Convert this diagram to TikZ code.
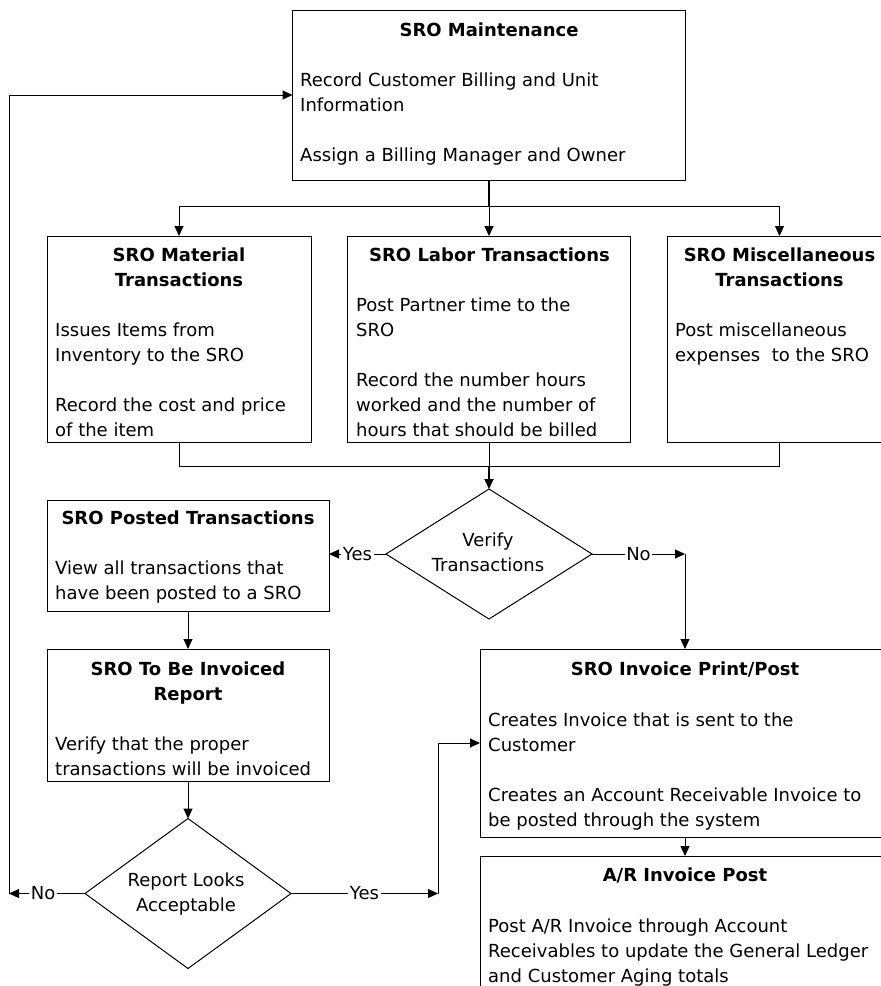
\documentclass[tikz,border=0pt]{standalone}
\usepackage{fontspec}
\setmainfont{DejaVu Sans}
\usetikzlibrary{shapes.geometric,arrows.meta}
\begin{document}
\begin{tikzpicture}[x=1pt,y=-1pt,
  box/.style={draw, line width=1pt, rectangle, inner sep=0pt, outer sep=0pt},
  dia/.style={draw, line width=1pt, diamond, inner sep=0pt, outer sep=0pt},
  ttl/.style={anchor=base, align=center, inner sep=0pt, font=\fontsize{18}{25}\selectfont\bfseries},
  bdy/.style={anchor=base west, align=left, inner sep=0pt, font=\fontsize{18}{25}\selectfont},
  dtxt/.style={anchor=base, align=center, inner sep=0pt, font=\fontsize{18}{25}\selectfont},
  con/.style={line width=1pt},
  arr/.style={line width=1pt, -{Triangle[length=10pt,width=9pt]}},
  lbl/.style={fill=white, inner sep=1.5pt, font=\fontsize{18}{22}\selectfont}
]
\useasboundingbox (0,0) rectangle (881,986);
\fill[white] (0,0) rectangle (881,986);
\clip (0,0) rectangle (881,986);

% boxes
\node[box, minimum width=393pt, minimum height=170pt] (maint) at (489,95) {};
\node[box, minimum width=264pt, minimum height=206pt] (mat) at (179,339) {};
\node[box, minimum width=283pt, minimum height=206pt] (lab) at (489,339) {};
\node[box, minimum width=225pt, minimum height=206pt] (misc) at (779.5,339) {};
\node[box, minimum width=282pt, minimum height=111pt] (posted) at (188,555.5) {};
\node[box, minimum width=282pt, minimum height=132pt] (tbi) at (188,715) {};
\node[box, minimum width=410pt, minimum height=188pt] (inv) at (685,743) {};
\node[box, minimum width=410pt, minimum height=160pt] (ar) at (685,936) {};
\node[dia, minimum width=206pt, minimum height=130pt] (verify) at (489,554) {};
\node[dia, minimum width=206pt, minimum height=150pt] (report) at (188,893.5) {};

% texts (base anchor of a multi-line node = baseline of its last line)
\node[ttl] (maintT) at (489,36) {SRO Maintenance};
\node[bdy] (maintB) at (300,161) {Record Customer Billing and Unit\\Information\\[25pt]Assign a Billing Manager and Owner};
\node[ttl] (matT) at (179,286) {SRO Material\\Transactions};
\node[bdy] (matB) at (55,436) {Issues Items from\\Inventory to the SRO\\[25pt]Record the cost and price\\of the item};
\node[ttl] (labT) at (489.5,261) {SRO Labor Transactions};
\node[bdy] (labB) at (356,436) {Post Partner time to the\\SRO\\[25pt]Record the number hours\\worked and the number of\\hours that should be billed};
\node[ttl] (miscT) at (779.5,286) {SRO Miscellaneous\\Transactions};
\node[bdy] (miscB) at (675,361) {Post miscellaneous\\expenses\ \ to the SRO};
\node[ttl] (postedT) at (188,524) {SRO Posted Transactions};
\node[bdy] (postedB) at (55,599) {View all transactions that\\have been posted to a SRO};
\node[ttl] (tbiT) at (188,700) {SRO To Be Invoiced\\Report};
\node[bdy] (tbiB) at (55,775) {Verify that the proper\\transactions will be invoiced};
\node[ttl] (invT) at (685,675) {SRO Invoice Print/Post};
\node[bdy] (invB) at (488,826) {Creates Invoice that is sent to the\\Customer\\[25pt]Creates an Account Receivable Invoice to\\be posted through the system};
\node[ttl] (arT) at (685,881) {A/R Invoice Post};
\node[bdy] (arB) at (488,982) {Post A/R Invoice through Account\\Receivables to update the General Ledger\\and Customer Aging totals};
\node[dtxt] (verT) at (488,571) {Verify\\Transactions};
\node[dtxt] (repT) at (186,911) {Report Looks\\Acceptable};

% connector points
\coordinate (j1) at (489,206);
\coordinate (j2) at (489,466);
\coordinate (c1) at (685,554);
\coordinate (c2) at (9,893.5);
\coordinate (c4) at (438,893.5);

% connectors
\draw[con, line width=2pt] (maint.south) -- (j1);
\draw[arr] (j1) -| (mat.north);
\draw[arr] (j1) -- (lab.north);
\draw[arr] (j1) -| (misc.north);
\draw[con] (mat.south) |- (j2);
\draw[con] (misc.south) |- (j2);
\draw[con] (lab.south) -- (j2);
\draw[arr, line width=2pt] (j2) -- (verify.north);
\draw[arr] (verify.west) -- node[lbl]{Yes} (verify.west -| posted.east);
\draw[arr] (verify.east) -- node[lbl]{No} (c1);
\draw[arr] (c1) -- (c1 |- inv.north);
\draw[arr] (posted.south) -- (tbi.north);
\draw[arr] (tbi.south) -- (report.north);
\draw[arr] (report.west) -- node[lbl, pos=0.55]{No} (c2);
\draw[arr] (c2) |- (maint.west);
\draw[arr] (report.east) -- node[lbl]{Yes} (c4);
\draw[arr] (c4) |- (inv.west);
\draw[arr] (inv.south) -- (ar.north);
\end{tikzpicture}
\end{document}
